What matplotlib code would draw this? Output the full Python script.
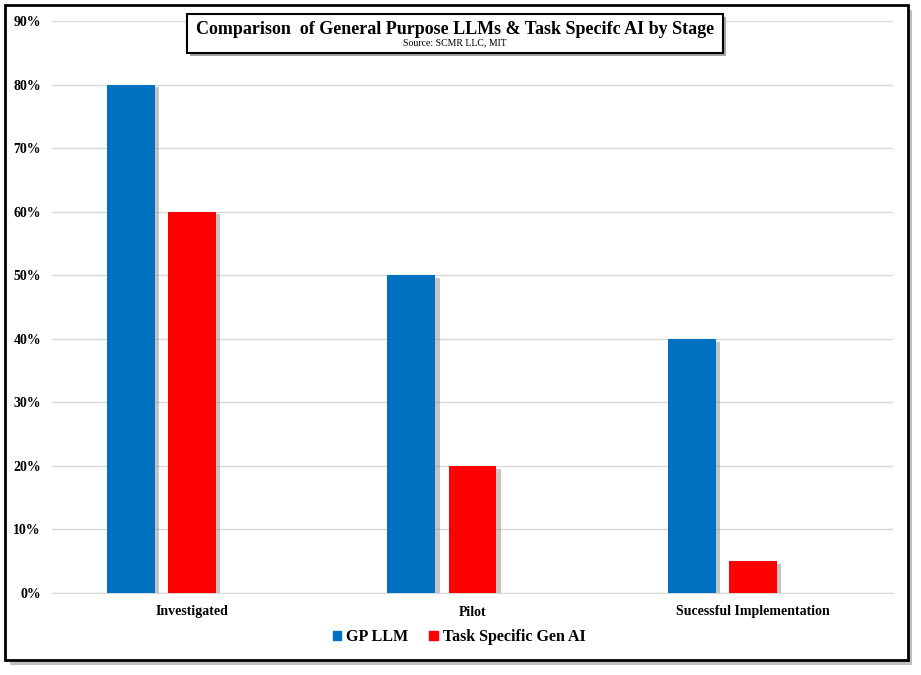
import matplotlib.pyplot as plt
import matplotlib.patches as mpatches
import matplotlib.patheffects as pe
import numpy as np

stages = ["Investigated", "Pilot", "Sucessful Implementation"]
gp_llm = [0.80, 0.50, 0.40]
task_ai = [0.60, 0.20, 0.05]
yticks = [0, 0.1, 0.2, 0.3, 0.4, 0.5, 0.6, 0.7, 0.8, 0.9]

plt.rcParams['font.family'] = ['Liberation Serif', 'DejaVu Serif']
plt.rcParams['font.weight'] = 'bold'

BLUE = "#0070c0"
RED = "#ff0000"

W, H = 921, 675
fig = plt.figure(figsize=(W / 100, H / 100), dpi=100, facecolor="white")


def fig_rect(x0, y0, x1, y1, **kw):
    # rectangle in pixel coords from top-left
    r = mpatches.Rectangle((x0 / W, 1 - y1 / H), (x1 - x0) / W, (y1 - y0) / H,
                           transform=fig.transFigure, **kw)
    fig.patches.append(r)
    return r


# outer border with shadow
fig_rect(10, 10, 912, 665, facecolor="#bfbfbf", edgecolor="none", zorder=-3)
fig_rect(5, 5, 908, 660, facecolor="white", edgecolor="black", linewidth=2, zorder=-2)

ax = fig.add_axes([52 / W, 1 - 593 / H, (893 - 52) / W, (593 - 21) / H])
ax.set_facecolor("none")

x = np.arange(len(stages))
w = 0.171
step = 0.218
shadow = [pe.SimplePatchShadow(offset=(3, -2), shadow_rgbFace="gray", alpha=0.45), pe.Normal()]
b1 = ax.bar(x - step, gp_llm, w, color=BLUE, zorder=3)
b2 = ax.bar(x, task_ai, w, color=RED, zorder=3)
for b in list(b1) + list(b2):
    b.set_path_effects(shadow)

ax.set_xlim(-0.5, 2.5)
ax.set_ylim(0, 0.9)
ax.set_yticks(yticks)
ax.set_yticklabels([f"{int(round(v * 100))}%" for v in yticks], fontsize=10, fontweight="bold")
ax.set_xticks(x)
ax.set_xticklabels(stages, fontsize=10, fontweight="bold")
ax.tick_params(axis="y", length=0, pad=8)
ax.tick_params(axis="x", length=0, pad=9)
ax.yaxis.grid(True, color="#d9d9d9", linewidth=1, zorder=0)
for s in ["top", "right", "left"]:
    ax.spines[s].set_visible(False)
ax.spines["bottom"].set_color("#d9d9d9")
ax.spines["bottom"].set_zorder(1)

handles = [mpatches.Patch(color=BLUE, label="GP LLM"),
           mpatches.Patch(color=RED, label="Task Specific Gen AI")]
fig.legend(handles=handles, loc="center", bbox_to_anchor=(459 / W, 1 - 637 / H), ncol=2,
           frameon=False, handlelength=0.55, handleheight=0.55,
           handletextpad=0.3, columnspacing=1.3, prop={"weight": "bold", "size": 11.5})

# title box with shadow
fig_rect(190, 17, 726, 56, facecolor="#a6a6a6", edgecolor="none", zorder=5)
fig_rect(187, 14, 723, 53, facecolor="white", edgecolor="black", linewidth=1.5, zorder=6)
fig.text(455 / W, 1 - 29 / H, "Comparison  of General Purpose LLMs & Task Specifc AI by Stage",
         ha="center", va="center", fontsize=13, fontweight="bold", zorder=7)
fig.text(455 / W, 1 - 43 / H, "Source: SCMR LLC, MIT", ha="center", va="center",
         fontsize=7, fontweight="normal", zorder=7)

fig.savefig("out.png", dpi=100)
